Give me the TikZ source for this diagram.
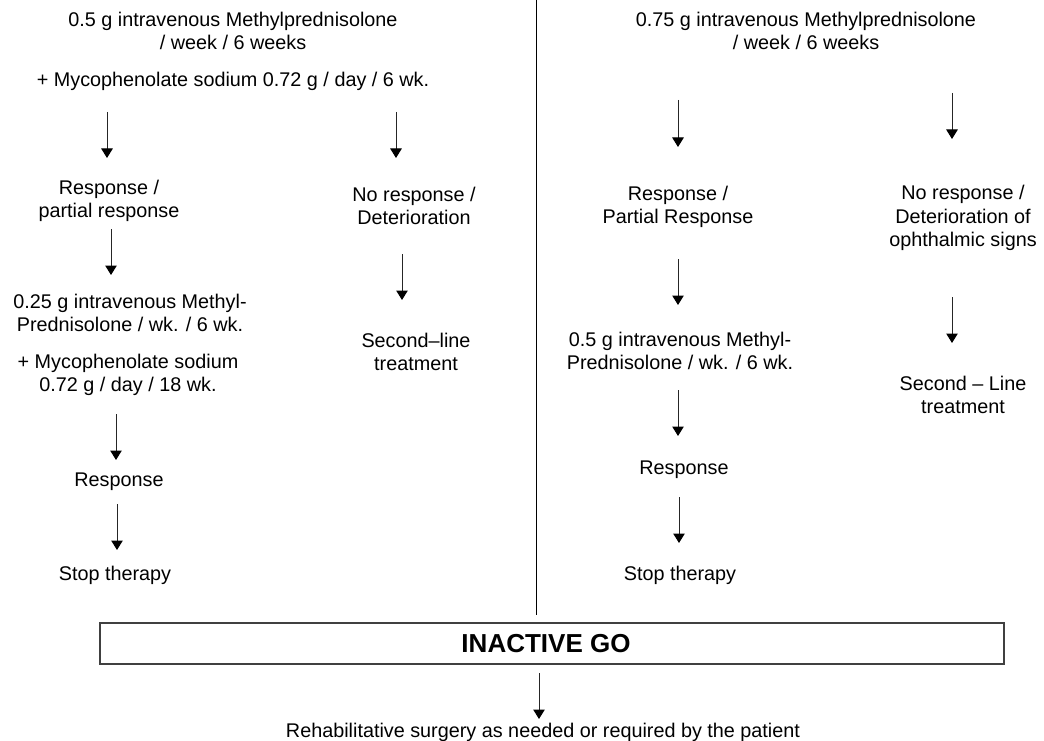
\documentclass[tikz,border=0pt]{standalone}
\usepackage{fontspec}
\setmainfont{Liberation Sans}
\usetikzlibrary{arrows.meta}
\begin{document}
\begin{tikzpicture}[x=1pt,y=-1pt,
  txt/.style={align=center,inner sep=0pt,font=\fontsize{19.8}{23.7}\selectfont},
  arr/.style={line width=1pt,draw=black!85,-{Triangle[width=11.5pt,length=9.5pt,color=black]}},
  gobox/.style={draw=black!75,line width=1.6pt,minimum width=904pt,minimum height=41pt,inner sep=0pt,font=\fontsize{26}{30}\selectfont\bfseries}]
\useasboundingbox (0,0) rectangle (1044,741);
% divider
\coordinate (dtop) at (536,0);
\coordinate (dbot) at (536,615);
\draw[line width=0.9pt] (dtop) -- (dbot);
% left column
\node[txt] (L1) at (233,31) {0.5 g intravenous Methylprednisolone\\/ week / 6 weeks};
\node[txt] (L2) at (233,81) {+ Mycophenolate sodium 0.72 g / day / 6 wk.};
\node[txt] (L3) at (109,201) {Response /\\partial response};
\node[txt] (L4) at (414,206) {No response /\\Deterioration};
\node[txt] (L5) at (130,313) {0.25 g intravenous Methyl-\\Prednisolone / wk. / 6 wk.};
\node[txt] (L6) at (128,375) {+ Mycophenolate sodium\\0.72 g / day / 18 wk.};
\node[txt] (L7) at (416,352) {Second–line\\treatment};
\node[txt] (L8) at (119,482) {Response};
\node[txt] (L9) at (115,575) {Stop therapy};
% right column
\node[txt] (R1) at (806,31) {0.75 g intravenous Methylprednisolone\\/ week / 6 weeks};
\node[txt] (R2) at (678,207) {Response /\\Partial Response};
\node[txt] (R3) at (963,218) {No response /\\Deterioration of\\ophthalmic signs};
\node[txt] (R4) at (680,351) {0.5 g intravenous Methyl-\\Prednisolone / wk. / 6 wk.};
\node[txt] (R5) at (963,395) {Second – Line\\treatment};
\node[txt] (R6) at (684,470) {Response};
\node[txt] (R7) at (680,575) {Stop therapy};
% box and bottom
\node[gobox] (box) at (552,643.5) {\hspace*{-12pt}INACTIVE GO};
\node[txt] (rehab) at (543,732) {Rehabilitative surgery as needed or required by the patient};
% arrow end points
\coordinate (a1s) at (107,112); \coordinate (a1e) at (107,158);
\coordinate (a2s) at (396,112); \coordinate (a2e) at (396,158);
\coordinate (a3s) at (111,229); \coordinate (a3e) at (111,275);
\coordinate (a4s) at (402,254); \coordinate (a4e) at (402,300);
\coordinate (a5s) at (116,414); \coordinate (a5e) at (116,460);
\coordinate (a6s) at (117,504); \coordinate (a6e) at (117,550);
\coordinate (a7s) at (678,100); \coordinate (a7e) at (678,147);
\coordinate (a8s) at (952,93);  \coordinate (a8e) at (952,139);
\coordinate (a9s) at (678,259); \coordinate (a9e) at (678,305);
\coordinate (a10s) at (952,297); \coordinate (a10e) at (952,343);
\coordinate (a11s) at (678,390); \coordinate (a11e) at (678,436);
\coordinate (a12s) at (679,497); \coordinate (a12e) at (679,543);
\coordinate (a13s) at (539,673); \coordinate (a13e) at (539,719);
\foreach \i in {1,...,13}{\draw[arr] (a\i s) -- (a\i e);}
\end{tikzpicture}
\end{document}
